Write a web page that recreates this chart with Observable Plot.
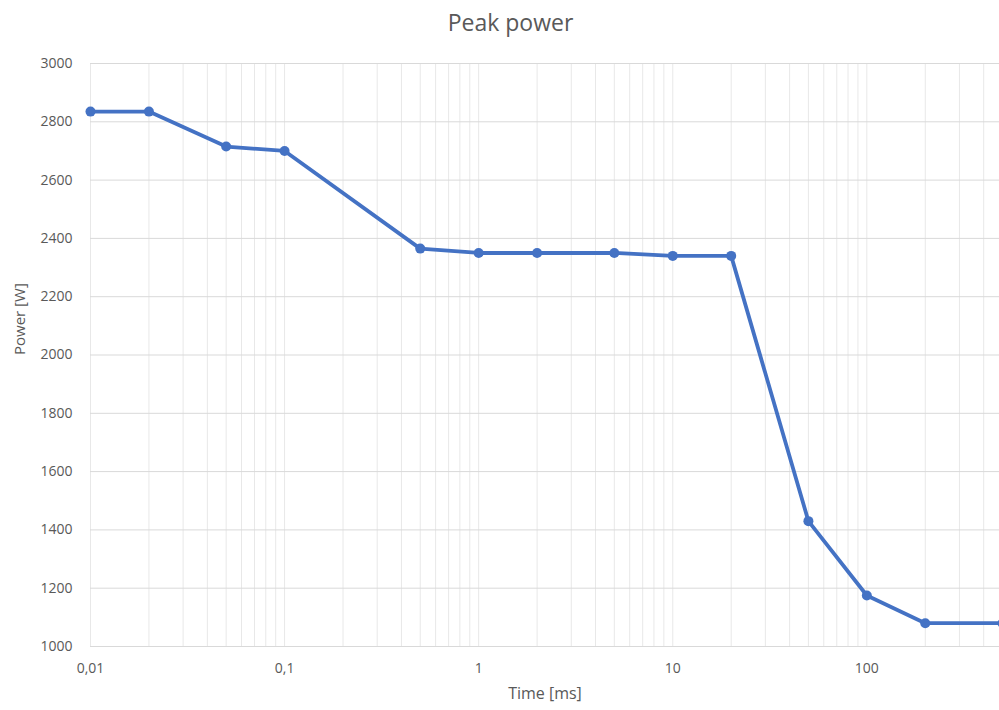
<!DOCTYPE html>
<html>
<head>
<meta charset="utf-8">
<script src="https://cdn.jsdelivr.net/npm/d3@7"></script>
<script src="https://cdn.jsdelivr.net/npm/@observablehq/plot@0.6"></script>
<style>
  html, body { margin: 0; padding: 0; background: #fff; }
  #wrap { width: 999px; height: 710px; overflow: hidden; position: relative; }
  #title { height: 45px; line-height: 45px; text-align: center; padding-left: 22px; font-family: "Open Sans", sans-serif; font-size: 23px; color: #595959; }
</style>
</head>
<body>
<div id="wrap">
  <div id="title">Peak power</div>
  <div id="chart"></div>
</div>
<script>
const time = [0.01, 0.02, 0.05, 0.1, 0.5, 1, 2, 5, 10, 20, 50, 100, 200, 500];
const power = [2835, 2835, 2715, 2700, 2365, 2350, 2350, 2350, 2340, 2340, 1430, 1175, 1080, 1080];
const xTicks = [0.01, 0.1, 1, 10, 100];
const xTickLabels = ["0,01", "0,1", "1", "10", "100"];
const yTicks = [1000, 1200, 1400, 1600, 1800, 2000, 2200, 2400, 2600, 2800, 3000];
const xLabel = "Time [ms]";
const yLabel = "Power [W]";

const data = time.map((t, i) => ({t, p: power[i]}));
const minor = [];
for (const d of [0.01, 0.1, 1, 10, 100]) for (let k = 1; k <= 9; k++) { const v = d * k; if (v <= 500) minor.push(v); }

const color = "#595959";
const chart = Plot.plot({
  width: 999,
  height: 665,
  marginLeft: 90,
  marginRight: 0,
  marginTop: 18,
  marginBottom: 64,
  style: {fontFamily: "Open Sans, sans-serif", color: color, background: "#fff"},
  x: {type: "log", domain: [0.01, 500], range: [90, 1002]},
  y: {domain: [1000, 3000]},
  marks: [
    Plot.ruleX(minor, {x: d => d, stroke: "#e8e8e8", strokeWidth: 1}),
    Plot.ruleY(yTicks, {y: d => d, stroke: "#d9d9d9", strokeWidth: 1}),
    Plot.axisX(xTicks, {tickFormat: (d) => xTickLabels[xTicks.indexOf(d)], tickSize: 0, tickPadding: 17, fontSize: 14, label: null, fill: color}),
    Plot.axisY(yTicks, {tickFormat: d => String(d), tickSize: 0, tickPadding: 18, fontSize: 14, label: null, fill: color}),
    Plot.text([xLabel], {frameAnchor: "bottom", dy: 52, fontSize: 16, fill: color, text: d => d}),
    Plot.text([yLabel], {frameAnchor: "left", dx: -70, rotate: -90, fontSize: 15, fill: color, text: d => d}),
    Plot.line(data, {x: "t", y: "p", stroke: "#4472C4", strokeWidth: 3.8, strokeLinejoin: "round"}),
    Plot.dot(data, {x: "t", y: "p", r: 5, fill: "#4472C4", stroke: "none"})
  ]
});
document.getElementById("chart").appendChild(chart);
</script>
</body>
</html>
